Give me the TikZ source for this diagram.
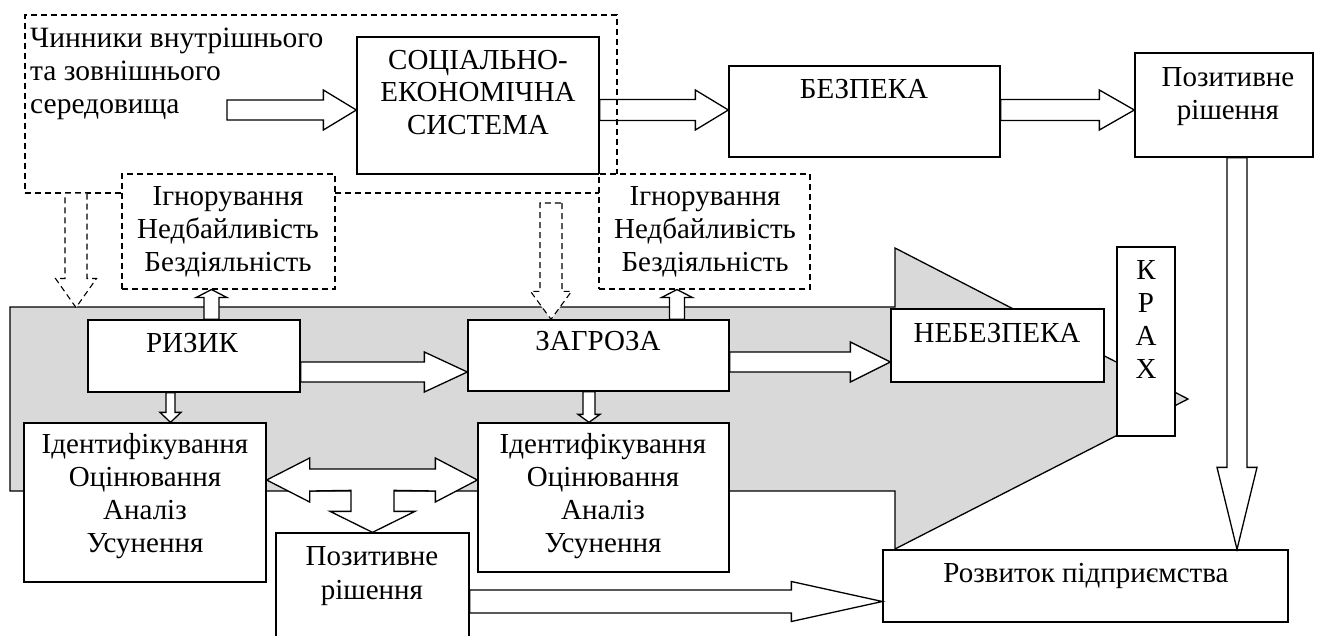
\documentclass[tikz,border=0pt]{standalone}
\usepackage{fontspec}
\setmainfont{Liberation Serif}
\usetikzlibrary{calc}
\definecolor{arrowgray}{RGB}{217,217,217}
\tikzset{
  box/.style={draw, fill=white, line width=1.3pt, inner sep=0pt},
  dboxplain/.style={draw, line width=1.1pt, dash pattern=on 6pt off 4pt, inner sep=0pt},
  dbox/.style={dboxplain, fill=white},
  txt/.style={inner sep=0pt, anchor=base, font=\fontsize{29pt}{33pt}\selectfont},
  envtxt/.style={anchor=base west, font=\fontsize{29.5pt}{33pt}\selectfont},
  blockarrow/.style={draw, fill=white, line width=1.3pt, line join=miter},
  dasharrow/.style={draw, fill=white, line width=1.1pt, dash pattern=on 6pt off 4pt},
  bigarrow/.style={draw, fill=arrowgray, line width=1.3pt, line join=miter},
}
% box node from corner (x1,y1) to (x2,y2), picture units (y down)
\newcommand\mkbox[6][box]{\node[#1, minimum width={#5pt-#3pt}, minimum height={#6pt-#4pt}] (#2) at ({(#3+#5)/2},{(#4+#6)/2}) {};}
% lines of text: [style]{name}{x}{first baseline}{spacing}{list}
\newcommand\lines[6][]{\foreach \t [count=\i] in {#6} {\node[txt,#1] (#2-\i) at (#3,{#4+(\i-1)*#5}) {\t};}}
% hollow block arrows: [style]{start}{tip}{shaft half}{head half}{head length}
\newcommand\harrow[6][blockarrow]{\path[#1] let \p1=#2, \p2=#3 in
  (\x1,\y1+#4pt) -- (\x2-#6pt,\y1+#4pt) -- (\x2-#6pt,\y1+#5pt) -- (\x2,\y1) --
  (\x2-#6pt,\y1-#5pt) -- (\x2-#6pt,\y1-#4pt) -- (\x1,\y1-#4pt) -- cycle;}
\newcommand\darrow[6][blockarrow]{\path[#1] let \p1=#2, \p2=#3 in
  (\x1+#4pt,\y1) -- (\x1+#4pt,\y2+#6pt) -- (\x1+#5pt,\y2+#6pt) -- (\x1,\y2) --
  (\x1-#5pt,\y2+#6pt) -- (\x1-#4pt,\y2+#6pt) -- (\x1-#4pt,\y1) -- cycle;}
\newcommand\uarrow[6][blockarrow]{\path[#1] let \p1=#2, \p2=#3 in
  (\x1+#4pt,\y1) -- (\x1+#4pt,\y2-#6pt) -- (\x1+#5pt,\y2-#6pt) -- (\x1,\y2) --
  (\x1-#5pt,\y2-#6pt) -- (\x1-#4pt,\y2-#6pt) -- (\x1-#4pt,\y1) -- cycle;}

\begin{document}
\begin{tikzpicture}[x=1pt,y=-1pt]
\useasboundingbox (0,0) rectangle (1318,635);
\clip (0,0) rectangle (1318,635);

% big grey arrow
\path[bigarrow] (10,307) -- (895,307) -- (895,248) -- (1188,399) -- (895,549) -- (895,491) -- (10,491) -- cycle;
\coordinate (gtop) at (0,307.5);

% solid boxes
\mkbox{soc}{357}{37}{599}{174}
\mkbox{bez}{729}{66}{1000}{157}
\mkbox{poz1}{1135}{53}{1313}{157}
\mkbox{riz}{88}{320}{300}{392}
\mkbox{zag}{468}{320}{729}{391}
\mkbox{neb}{891}{309}{1104}{382}
\mkbox{krah}{1117}{247}{1175}{436}
\mkbox{id1}{24}{423}{266}{582}
\mkbox{id2}{478}{423}{729}{572}
\mkbox{poz2}{276}{533}{469}{650}
\mkbox{roz}{883}{550}{1288}{622}

% helper coordinates
\coordinate (c1) at (227,110);
\coordinate (yRZ) at (0,372);
\coordinate (yZN) at (0,362);
\coordinate (xU1) at (211.5,0);
\coordinate (xU2) at (677,0);
\coordinate (xD1) at (170.5,0);
\coordinate (xD2) at (589,0);
\coordinate (xL) at (1237,0);
\coordinate (yB) at (0,601.5);
\coordinate (yT) at (0,480);

% top row arrows
\harrow{(c1)}{(soc.west |- c1)}{10}{20}{33}
\harrow{(soc.east |- c1)}{(bez.west |- c1)}{10.5}{20}{33}
\harrow{(bez.east |- c1)}{(poz1.west |- c1)}{10.5}{20}{35}

% middle row arrows
\harrow{(riz.east |- yRZ)}{(zag.west |- yRZ)}{10}{20}{43}
\harrow{(zag.east |- yZN)}{(neb.west |- yZN)}{10}{20}{40}

% down arrows
\darrow{(riz.south -| xD1)}{(id1.north -| xD1)}{4.5}{10.5}{10}
\darrow{(zag.south -| xD2)}{(id2.north -| xD2)}{6}{11}{8}

% long arrows to development
\darrow{(poz1.south -| xL)}{(roz.north -| xL)}{10}{20}{82}
\harrow{(poz2.east |- yB)}{(roz.west |- yB)}{11.5}{20}{91}

% three-way arrow
\coordinate (tl) at (id1.east |- yT);
\coordinate (tr) at (id2.west |- yT);
\coordinate (td) at (poz2.north);
\path[blockarrow] (tl) -- ($(tl)+(43,-22)$) -- ($(tl)+(43,-11)$) -- ($(tr)+(-42,-11)$) -- ($(tr)+(-42,-22)$)
  -- (tr) -- ($(tr)+(-42,22)$) -- ($(tr)+(-42,11)$) -- ($(td)+(21.5,-42)$) -- ($(td)+(21.5,-21)$)
  -- ($(td)+(42.5,-21)$) -- (td) -- ($(td)+(-42.5,-21)$) -- ($(td)+(-21.5,-21)$) -- ($(td)+(-21.5,-42)$)
  -- ($(tl)+(43,11)$) -- ($(tl)+(43,22)$) -- cycle;

% environment (dashed) and the dashed boxes over it
\mkbox[dboxplain]{env}{25}{15}{617}{193}
\mkbox[dbox]{ign1}{122}{174}{335}{289}
\mkbox[dbox]{ign2}{599}{174}{810}{289}

% up arrows
\uarrow{(riz.north -| xU1)}{(ign1.south -| xU1)}{7.5}{15.5}{8}
\uarrow{(zag.north -| xU2)}{(ign2.south -| xU2)}{7.5}{15.5}{8}

% dashed arrows
\coordinate (xQ1) at (76,0);
\coordinate (q2s) at (551,203);
\path[fill=white] let \p1=(env.south -| xQ1), \p2=(xQ1 |- gtop) in
  (\x1+11pt,\y1) -- (\x1+11pt,\y2+29pt) -- (\x1+20.5pt,\y2+29pt) -- (\x1,\y2) --
  (\x1-20.5pt,\y2+29pt) -- (\x1-11pt,\y2+29pt) -- (\x1-11pt,\y1) -- cycle;
\path[dasharrow, fill=none] let \p1=(env.south -| xQ1), \p2=(xQ1 |- gtop) in
  (\x1+11pt,\y1) -- (\x1+11pt,\y2+29pt) -- (\x1+20.5pt,\y2+29pt) -- (\x1,\y2) --
  (\x1-20.5pt,\y2+29pt) -- (\x1-11pt,\y2+29pt) -- (\x1-11pt,\y1);
\darrow[dasharrow]{(q2s)}{(zag.north -| q2s)}{11}{20.5}{28}

% texts
\lines[envtxt]{envT}{30}{47}{33}{Чинники внутрішнього,та зовнішнього,середовища}
\lines{socT}{478}{69}{32.5}{СОЦІАЛЬНО-,ЕКОНОМІЧНА,СИСТЕМА}
\lines{bezT}{864}{98}{33}{БЕЗПЕКА}
\lines{poz1T}{1228}{86}{33}{Позитивне,рішення}
\lines{ign1T}{228}{205}{33}{Ігнорування,Недбайливість,Бездіяльність}
\lines{ign2T}{705}{205}{33}{Ігнорування,Недбайливість,Бездіяльність}
\lines{rizT}{192}{352}{33}{РИЗИК}
\lines{zagT}{598}{350}{33}{ЗАГРОЗА}
\lines{nebT}{997}{342}{33}{НЕБЕЗПЕКА}
\lines{krT}{1146}{279}{33}{К,Р,А,Х}
\lines{id1T}{145}{453}{33.3}{Ідентифікування,Оцінювання,Аналіз,Усунення}
\lines{id2T}{603}{453}{33.3}{Ідентифікування,Оцінювання,Аналіз,Усунення}
\lines{poz2T}{372}{565}{34.5}{Позитивне,рішення}
\lines{rozT}{1086}{582}{33}{Розвиток підприємства}
\end{tikzpicture}
\end{document}
